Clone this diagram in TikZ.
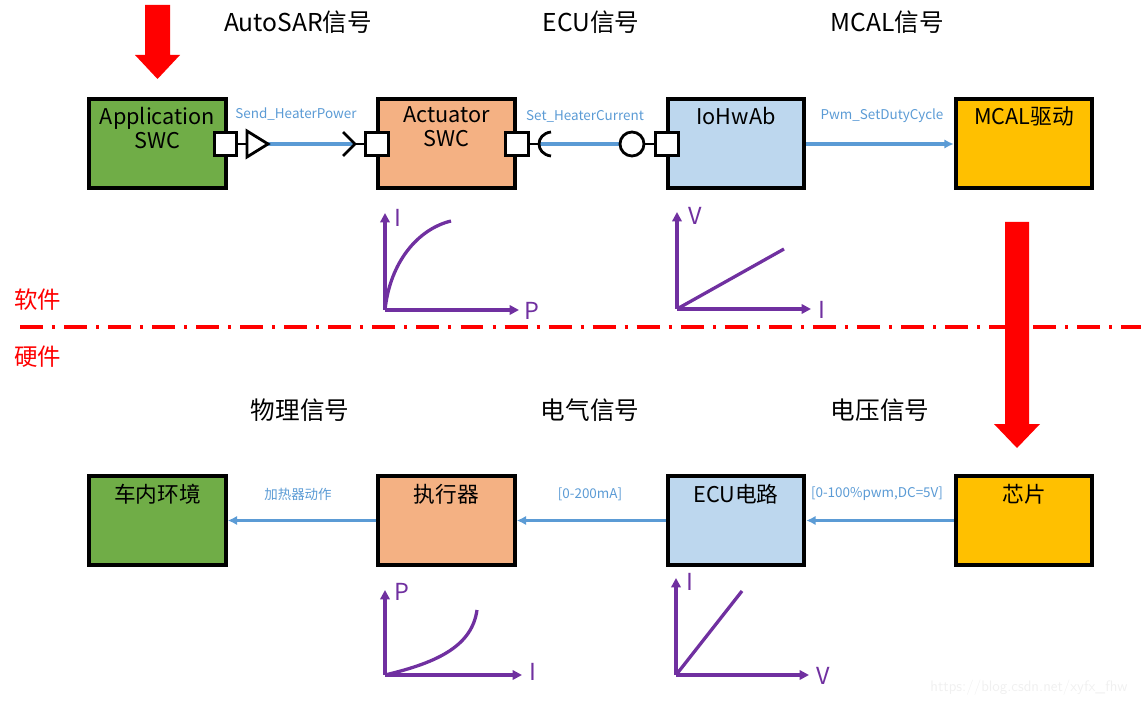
\documentclass[tikz,border=0pt]{standalone}
\usepackage{fontspec}
\setmainfont{Noto Sans CJK SC}
\usetikzlibrary{arrows.meta}
\definecolor{bgreen}{HTML}{70AD47}
\definecolor{borange}{HTML}{F4B183}
\definecolor{bblue}{HTML}{BDD7EE}
\definecolor{bgold}{HTML}{FFC000}
\definecolor{lblue}{HTML}{5B9BD5}
\definecolor{purp}{HTML}{7030A0}
\begin{document}
\begin{tikzpicture}[x=0.03cm,y=-0.03cm,
  blk/.style={draw=black,line width=3.2pt,minimum width=4.1cm,minimum height=2.66cm,inner sep=0pt},
  btxt/.style={anchor=north,inner sep=0pt,align=center,font=\fontsize{18.5}{20.5}\selectfont,yshift=-8pt},
  port/.style={draw=black,fill=white,line width=2.4pt,minimum size=0.68cm,inner sep=0pt},
  blk2/.style={draw=black,line width=2.4pt},
  conn/.style={draw=lblue,line width=2.6pt},
  carr/.style={conn,-{Latex[length=8pt,width=8pt]}},
  clab/.style={text=lblue,font=\fontsize{11.5}{13}\selectfont,inner sep=0pt},
  head/.style={font=\fontsize{21}{24}\selectfont,inner sep=0pt},
  ax/.style={draw=purp,line width=2.8pt,-{Triangle[length=8pt,width=8pt]}},
  crv/.style={draw=purp,line width=2.8pt},
  axl/.style={text=purp,font=\fontsize{20}{22}\selectfont,inner sep=0pt},
  redarr/.style={fill=red,draw=none},
  sidel/.style={text=red,font=\fontsize{20}{22}\selectfont,inner sep=0pt}
]
\useasboundingbox (0,0) rectangle (1141,705);
% headings
\node[head] (h1) at (298,22) {AutoSAR信号};
\node[head] (h2) at (591,22) {ECU信号};
\node[head] (h3) at (887,22) {MCAL信号};
\node[head] (h4) at (300,410) {物理信号};
\node[head] (h5) at (590,410) {电气信号};
\node[head] (h6) at (880,410) {电压信号};
% red arrows
\fill[redarr] (145,5) -- (170,5) -- (170,55) -- (180,55) -- (157.5,79) -- (135,55) -- (145,55) -- cycle;
\fill[redarr] (1005,222) -- (1029,222) -- (1029,424) -- (1040,424) -- (1017,448) -- (994,424) -- (1005,424) -- cycle;
% boxes top
\node[blk,fill=bgreen] (app) at (157.5,143.5) {};
\node[btxt] (appt) at (app.north) {Application\\SWC};
\node[blk,fill=borange] (act) at (446.5,143.5) {};
\node[btxt] (actt) at (act.north) {Actuator\\SWC};
\node[blk,fill=bblue] (io) at (736,143.5) {};
\node[btxt] (iot) at (io.north) {IoHwAb};
\node[blk,fill=bgold] (mcal) at (1024,143.5) {};
\node[btxt] (mcalt) at (mcal.north) {MCAL驱动};
% boxes bottom
\node[blk,fill=bgreen] (env) at (157.5,520.5) {};
\node[btxt] (envt) at (env.north) {车内环境};
\node[blk,fill=borange] (exe) at (446.5,520.5) {};
\node[btxt] (exet) at (exe.north) {执行器};
\node[blk,fill=bblue] (ecu) at (736,520.5) {};
\node[btxt] (ecut) at (ecu.north) {ECU电路};
\node[blk,fill=bgold] (chip) at (1024,520.5) {};
\node[btxt] (chipt) at (chip.north) {芯片};
% ports top
\coordinate (triL) at (247,144);
\coordinate (triA) at (268,144);
\coordinate (chevT) at (355,144);
\coordinate (sockL) at (538,144);
\coordinate (circL) at (620,144);
\draw[conn] (triA) -- (chevT);
\draw[conn] (sockL) -- (circL);
\node[port] (p1) at (225.5,144) {};
\node[port] (p2) at (377,144) {};
\node[port] (p3) at (517,144) {};
\node[port] (p4) at (667,144) {};
\draw[blk2] (p1.east) -- (triL);
\draw[blk2,fill=white] (247,131) -- (triA) -- (247,157) -- cycle;
\draw[blk2] (343,132) -- (chevT) -- (343,156);
\draw[blk2] (chevT) -- (p2.west);
\draw[blk2] (p3.east) -- (sockL);
\draw[blk2] (551,156) .. controls (535,154) and (535,134) .. (551,132);
\node[draw=black,line width=2.4pt,fill=white,circle,minimum size=0.72cm,inner sep=0pt] (circ) at (632,144) {};
\draw[blk2] (circ.east) -- (p4.west);
\draw[carr] (io.east |- 0,144) -- (mcal.west |- 0,144);
\node[clab] (l1) at (296,114) {Send\_HeaterPower};
\node[clab] (l2) at (585,116) {Set\_HeaterCurrent};
\node[clab] (l3) at (882,116) {Pwm\_SetDutyCycle};
% bottom arrows
\draw[carr] (chip.west) -- (ecu.east);
\draw[carr] (ecu.west) -- (exe.east);
\draw[carr] (exe.west) -- (env.east);
\node[clab] (l4) at (298,494) {加热器动作};
\node[clab] (l5) at (590,494) {[0-200mA]};
\node[clab] (l6) at (877,494) {[0-100\%pwm,DC=5V]};
% separator
\draw[red,line width=2.8pt,dash pattern=on 19.6pt off 7.7pt on 2.6pt off 7.7pt] (20,327) -- (1141,327);
\node[sidel] (sw) at (38,300) {软件};
\node[sidel] (hw) at (38,357) {硬件};
% graph 1
\coordinate (g1o) at (385,310);
\draw[ax] (g1o) -- (385,213);
\draw[ax] (g1o) -- (519,310);
\draw[crv] (g1o) .. controls (390,262) and (418,229) .. (451,221);
\node[axl] (g1y) at (398,218) {I};
\node[axl] (g1x) at (532,311) {P};
% graph 2
\coordinate (g2o) at (677,309);
\draw[ax] (g2o) -- (677,212);
\draw[ax] (g2o) -- (811,309);
\draw[crv] (g2o) -- (784,249);
\node[axl] (g2y) at (695,216) {V};
\node[axl] (g2x) at (822,310) {I};
% graph 3
\coordinate (g3o) at (385,675);
\draw[ax] (g3o) -- (385,590);
\draw[ax] (g3o) -- (522,675);
\draw[crv] (g3o) .. controls (440,662) and (472,645) .. (477,610);
\node[axl] (g3y) at (402,592) {P};
\node[axl] (g3x) at (533,672) {I};
% graph 4
\coordinate (g4o) at (676,675);
\draw[ax] (g4o) -- (676,578);
\draw[ax] (g4o) -- (809,675);
\draw[crv] (g4o) -- (742,591);
\node[axl] (g4y) at (690,582) {I};
\node[axl] (g4x) at (823,676) {V};
% watermark
\node[text=black!6,font=\fontsize{13}{15}\selectfont\sffamily,inner sep=0pt] (wm) at (1029,688) {https://blog.csdn.net/xyfx\_fhw};
\end{tikzpicture}
\end{document}
